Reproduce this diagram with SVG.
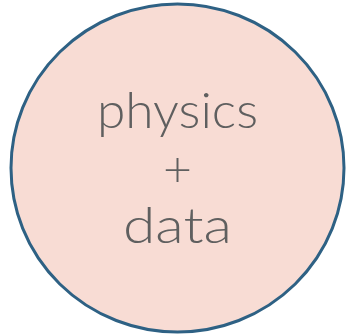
<svg xmlns="http://www.w3.org/2000/svg" width="348" height="335" viewBox="0 0 348 335">
<style>
.lbl{font-family:"Lato","Liberation Sans",sans-serif;font-weight:300;font-size:50px;fill:#5f5f5f;text-anchor:middle}
</style>
<g id="node-physics-data">
<ellipse cx="177.5" cy="168" rx="166.5" ry="164" fill="#F8DCD4" stroke="#2E6184" stroke-width="3"/>
<text class="lbl" x="177.5" y="128" textLength="161" lengthAdjust="spacingAndGlyphs">physics</text>
<text class="lbl" x="177.5" y="187">+</text>
<text class="lbl" x="177.5" y="243" textLength="109" lengthAdjust="spacingAndGlyphs">data</text>
</g>
</svg>
